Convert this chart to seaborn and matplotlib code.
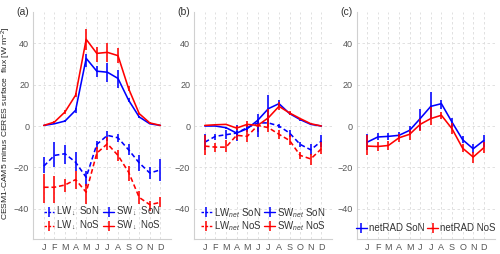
import numpy as np
import pandas as pd
import matplotlib
matplotlib.use("Agg")
import matplotlib.pyplot as plt
from matplotlib.lines import Line2D
import seaborn as sns

# Monate
months = ['J', 'F', 'M', 'A', 'M', 'J', 'J', 'A', 'S', 'O', 'N', 'D']
month_num = np.arange(1, 13)

# (a) SW / LW downwelling
sw_son = [0.3, 1.1, 2.4, 7.6, 32.7, 26.5, 26.0, 23.0, 12.5, 4.4, 1.1, 0.3]
sw_son_lo = [0.2, 0.8, 1.8, 6.5, 28.6, 23.5, 21.4, 18.6, 11.5, 4.0, 0.9, 0.2]
sw_son_hi = [0.4, 1.4, 3.0, 8.7, 35.0, 29.0, 30.6, 27.0, 13.5, 4.8, 1.3, 0.4]
sw_nos = [0.3, 1.9, 6.8, 14.9, 41.9, 35.1, 35.6, 34.0, 18.1, 6.0, 1.5, 0.3]
sw_nos_lo = [0.2, 1.5, 5.8, 13.8, 36.7, 31.0, 31.0, 30.3, 17.0, 5.5, 1.2, 0.2]
sw_nos_hi = [0.4, 2.3, 7.8, 16.0, 46.8, 38.3, 40.0, 37.5, 19.2, 6.5, 1.8, 0.4]
lw_son = [-19.4, -14.2, -13.4, -17.5, -24.8, -8.9, -4.5, -5.7, -11.5, -17.8, -22.7, -21.2]
lw_son_lo = [-22.5, -20.0, -18.3, -21.5, -28.8, -11.0, -7.0, -7.8, -14.2, -21.5, -25.6, -26.4]
lw_son_hi = [-15.0, -7.8, -9.4, -12.6, -21.5, -7.0, -2.6, -3.7, -8.6, -13.9, -19.9, -15.9]
lw_nos = [-29.6, -29.6, -28.5, -25.9, -32.0, -13.1, -8.6, -14.2, -22.3, -34.5, -38.0, -36.9]
lw_nos_lo = [-37.0, -37.0, -32.0, -30.4, -37.7, -15.9, -11.8, -16.7, -26.4, -37.7, -41.0, -39.3]
lw_nos_hi = [-23.0, -24.0, -25.6, -21.5, -28.0, -10.2, -5.3, -11.8, -19.1, -31.2, -36.0, -34.5]

# (b) net SW / LW
swnet_son = [0.0, 0.0, -0.8, -3.4, -1.3, 2.8, 8.4, 10.8, 6.0, 3.1, 0.8, 0.0]
swnet_son_lo = [-0.2, -0.2, -1.2, -4.5, -2.0, -5.3, 1.9, 9.2, 5.2, 2.6, 0.5, -0.2]
swnet_son_hi = [0.2, 0.2, -0.4, -2.3, -0.6, 6.0, 14.9, 12.5, 6.8, 3.6, 1.1, 0.2]
swnet_nos = [0.3, 0.6, 0.8, -1.0, 0.8, 0.3, 4.0, 9.5, 6.3, 3.6, 1.1, 0.0]
swnet_nos_lo = [0.1, 0.3, 0.4, -2.0, -0.5, -0.5, -0.5, 7.6, 5.5, 3.1, 0.8, -0.2]
swnet_nos_hi = [0.5, 0.9, 1.2, 0.0, 2.2, 1.2, 8.0, 11.6, 7.1, 4.1, 1.4, 0.2]
lwnet_son = [-7.8, -5.0, -4.2, -3.4, -0.8, 1.5, 1.5, 0.0, -3.4, -8.9, -11.5, -7.3]
lwnet_son_lo = [-11.8, -6.8, -6.1, -7.0, -2.9, -0.5, 0.0, -1.0, -5.3, -10.2, -14.2, -10.2]
lwnet_son_hi = [-3.7, -3.7, -2.1, 0.3, 1.1, 3.5, 3.0, 1.0, -1.8, -7.6, -8.6, -4.5]
lwnet_nos = [-9.7, -10.2, -10.2, -4.5, -5.0, 0.3, -0.8, -4.0, -7.0, -14.2, -15.9, -11.0]
lwnet_nos_lo = [-13.8, -12.6, -12.6, -6.6, -7.8, -2.9, -2.9, -6.1, -9.4, -15.9, -18.6, -13.6]
lwnet_nos_hi = [-4.5, -8.2, -6.9, -2.9, -2.1, 3.6, 5.3, -2.1, -4.5, -12.6, -13.4, -7.8]

# (c) netRAD
net_son = [-7.8, -5.3, -5.0, -4.5, -2.1, 3.6, 9.5, 10.8, 1.9, -6.6, -11.0, -7.0]
net_son_lo = [-11.8, -6.8, -6.6, -6.1, -4.5, -2.1, 3.6, 8.4, -0.5, -8.2, -13.1, -10.2]
net_son_hi = [-3.7, -3.4, -3.4, -2.9, 0.0, 8.4, 16.5, 12.8, 4.0, -5.0, -8.6, -4.5]
net_nos = [-9.7, -9.9, -9.4, -5.7, -4.0, 0.8, 3.6, 5.2, -1.3, -10.7, -15.0, -10.5]
net_nos_lo = [-13.8, -12.1, -11.8, -7.8, -6.6, -2.4, 0.3, 3.6, -3.7, -12.6, -17.8, -13.1]
net_nos_hi = [-4.5, -7.8, -7.0, -3.7, -1.8, 3.6, 9.2, 6.8, 1.3, -8.9, -12.6, -7.8]

BLUE = '#0000ff'
RED = '#ff0000'
GRAY = '#555555'
LW = 1.15

sns.set_style("white")
plt.rcParams['font.family'] = ['Liberation Sans', 'DejaVu Sans']
plt.rcParams['mathtext.fontset'] = 'custom'
plt.rcParams['mathtext.rm'] = 'Liberation Sans'
plt.rcParams['mathtext.it'] = 'Liberation Sans:italic'

fig = plt.figure(figsize=(5.0, 2.54), dpi=100)
lefts = [33.3, 194.3, 356.7]
axes = [fig.add_axes([l / 500, 15 / 254, 138 / 500, 227 / 254]) for l in lefts]


def draw(ax, vals, lo, hi, color, ls):
    df = pd.DataFrame({'month': month_num, 'val': vals})
    sns.lineplot(data=df, x='month', y='val', ax=ax, color=color, linewidth=LW)
    if ls != '-':
        ax.lines[-1].set_dashes((3, 1.8))
    ax.vlines(month_num, lo, hi, color=color, linewidth=LW)


def handle(color, ls, label):
    h = Line2D([], [], color=color, linewidth=1.0, marker='|', markersize=7,
               markeredgewidth=1.1, label=label)
    if ls != '-':
        h.set_dashes((1.8, 1.2))
    return h


# (a)
draw(axes[0], lw_son, lw_son_lo, lw_son_hi, BLUE, '--')
draw(axes[0], lw_nos, lw_nos_lo, lw_nos_hi, RED, '--')
draw(axes[0], sw_son, sw_son_lo, sw_son_hi, BLUE, '-')
draw(axes[0], sw_nos, sw_nos_lo, sw_nos_hi, RED, '-')

# (b)
draw(axes[1], lwnet_son, lwnet_son_lo, lwnet_son_hi, BLUE, '--')
draw(axes[1], lwnet_nos, lwnet_nos_lo, lwnet_nos_hi, RED, '--')
draw(axes[1], swnet_son, swnet_son_lo, swnet_son_hi, BLUE, '-')
draw(axes[1], swnet_nos, swnet_nos_lo, swnet_nos_hi, RED, '-')

# (c)
draw(axes[2], net_son, net_son_lo, net_son_hi, BLUE, '-')
draw(axes[2], net_nos, net_nos_lo, net_nos_hi, RED, '-')

for ax, lab in zip(axes, ['(a)', '(b)', '(c)']):
    ax.set_xlim(0.01, 13.03)
    ax.set_ylim(-54.6, 55.1)
    ax.set_xticks(month_num)
    ax.set_xticklabels(months)
    ax.set_yticks([-40, -20, 0, 20, 40])
    ax.grid(True, linestyle=(0, (3, 3)), color='#dcdcdc', linewidth=0.6)
    ax.set_axisbelow(True)
    for s in ['top', 'right']:
        ax.spines[s].set_visible(False)
    for s in ['left', 'bottom']:
        ax.spines[s].set_color('#d0d0d0')
        ax.spines[s].set_linewidth(0.8)
    ax.tick_params(axis='both', length=0, labelsize=6.5, labelcolor=GRAY, pad=3)
    ax.set_xlabel('')
    ax.set_ylabel('')
    ax.text(-0.03, 1.0, lab, transform=ax.transAxes, ha='right', va='center',
            fontsize=7.5, color='#333333')

axes[0].set_ylabel('CESM1-CAM5 minus CERES surface  flux [W m$^{-2}$]',
                   fontsize=6.1, color='#222222')
axes[0].yaxis.set_label_coords(-0.145, 0.51)

legend_kw = dict(loc='lower center', bbox_to_anchor=(0.5, -0.005), frameon=False,
                 fontsize=7, handlelength=1.1, handletextpad=0.2,
                 columnspacing=0.3, labelspacing=0.0, borderaxespad=0.3,
                 labelcolor='#333333')

axes[0].legend(handles=[handle(BLUE, '--', r'LW$_\downarrow$ SoN'),
                        handle(RED, '--', r'LW$_\downarrow$ NoS'),
                        handle(BLUE, '-', r'SW$_\downarrow$ SoN'),
                        handle(RED, '-', r'SW$_\downarrow$ NoS')],
               ncol=2, **legend_kw)
axes[1].legend(handles=[handle(BLUE, '--', r'LW$_{net}$ SoN'),
                        handle(RED, '--', r'LW$_{net}$ NoS'),
                        handle(BLUE, '-', r'SW$_{net}$ SoN'),
                        handle(RED, '-', r'SW$_{net}$ NoS')],
               ncol=2, **legend_kw)
axes[2].legend(handles=[handle(BLUE, '-', 'netRAD SoN'),
                        handle(RED, '-', 'netRAD NoS')],
               ncol=2, **legend_kw)

fig.savefig('out.png', dpi=100)
